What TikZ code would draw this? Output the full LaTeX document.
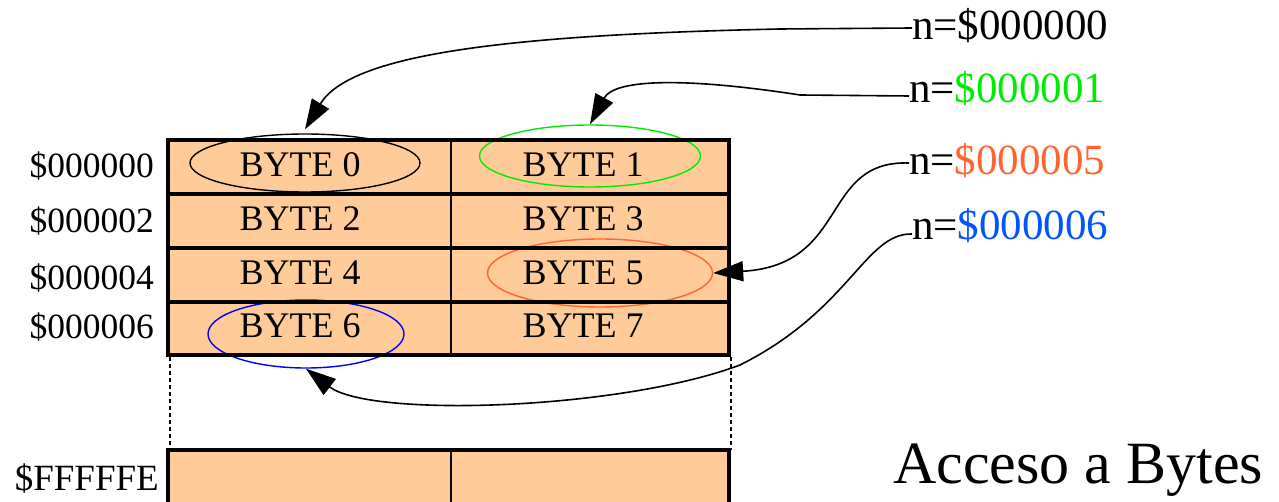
\documentclass[tikz,border=0pt]{standalone}
\usepackage{fontspec}
\setmainfont{Liberation Serif}
\usetikzlibrary{shapes.geometric,arrows.meta}
\definecolor{cellfill}{RGB}{255,204,153}
\definecolor{hlgreen}{RGB}{0,235,0}
\definecolor{hlorange}{RGB}{255,100,50}
\definecolor{hlblue}{RGB}{0,0,255}
\definecolor{txtblue}{RGB}{0,85,255}
\begin{document}
\begin{tikzpicture}[x=1pt,y=-1pt,
  celltxt/.style={inner sep=0pt,font=\fontsize{36}{40}\selectfont},
  addr/.style={inner sep=0pt,anchor=base east,font=\fontsize{35.5}{40}\selectfont},
  nlabel/.style={inner sep=0pt,anchor=base west,font=\fontsize{43}{47}\selectfont},
  hl/.style={ellipse,draw,line width=1.4pt,inner sep=0pt},
  conn/.style={line width=1.6pt,-{Triangle[length=30pt,width=20pt]}},
  gridthick/.style={line width=3.2pt},
  gridthin/.style={line width=1.6pt},
  gap/.style={line width=1.2pt,dash pattern=on 4pt off 3pt}]
\useasboundingbox (0,0) rectangle (1279,502);
% fills
\fill[cellfill] (168,140) rectangle (729,355);
\fill[cellfill] (168,450) rectangle (729,510);
% highlight ellipses
\node[hl,minimum width=230pt,minimum height=58pt] (e0) at (305,163) {};
\node[hl,draw=hlgreen,minimum width=221pt,minimum height=62pt] (e1) at (590,156) {};
\node[hl,draw=hlorange,minimum width=225pt,minimum height=68pt] (e5) at (600,273) {};
\node[hl,draw=hlblue,minimum width=196pt,minimum height=68pt] (e6) at (306,334) {};
% grid
\draw[gridthin] (451,140) -- (451,355);
\draw[gridthick] (168,194) -- (729,194);
\draw[gridthick] (168,248) -- (729,248);
\draw[gridthick] (168,302) -- (729,302);
\draw[line width=3.6pt] (168,140) rectangle (729,355);
\draw[gap] (170,357) -- (170,450);
\draw[gap] (731,357) -- (731,450);
\draw[gridthin] (451,450) -- (451,510);
\draw[line width=3.6pt] (168,510) -- (168,450) -- (729,450) -- (729,510);
% cell texts
\node[celltxt] (b0) at (300,165) {BYTE 0};
\node[celltxt] (b1) at (583,165) {BYTE 1};
\node[celltxt] (b2) at (300,219) {BYTE 2};
\node[celltxt] (b3) at (583,219) {BYTE 3};
\node[celltxt] (b4) at (300,273) {BYTE 4};
\node[celltxt] (b5) at (583,273) {BYTE 5};
\node[celltxt] (b6) at (300,326) {BYTE 6};
\node[celltxt] (b7) at (583,326) {BYTE 7};
% addresses
\node[addr] (a0) at (154,178) {\$000000};
\node[addr] (a2) at (154,233) {\$000002};
\node[addr] (a4) at (154,290) {\$000004};
\node[addr] (a6) at (154,339) {\$000006};
\node[addr,font=\fontsize{37}{40}\selectfont] (aF) at (159,490) {\$FFFFFE};
% pointer labels
\node[nlabel] (n0) at (912,40) {n=\$000000};
\node[nlabel] (n1) at (909,103) {n=\textcolor{hlgreen}{\$000001}};
\node[nlabel] (n5) at (909,175) {n=\textcolor{hlorange}{\$000005}};
\node[nlabel] (n6) at (912,240) {n=\textcolor{txtblue}{\$000006}};
\node[inner sep=0pt,anchor=base west,font=\fontsize{60}{64}\selectfont] (title) at (893,483) {Acceso a Bytes};
% connectors
\coordinate (c0) at ([yshift=12pt]n0.base west);
\coordinate (c1) at ([yshift=7pt]n1.base west);
\coordinate (c5) at ([yshift=12pt]n5.base west);
\coordinate (c6) at ([yshift=6pt]n6.base west);
\draw[conn] (c0) -- (780,29) .. controls (500,35) and (350,55) .. ([yshift=4pt]e0.north);
\draw[conn] (c1) -- (800,95) .. controls (690,78) and (615,78) .. (e1.north);
\draw[conn] (c5) .. controls (820,160) and (850,265) .. (e5.east);
\draw[conn] (c6) .. controls (865,233) and (850,310) .. (740,365) .. controls (620,410) and (370,418) .. (e6.south);
\end{tikzpicture}
\end{document}
